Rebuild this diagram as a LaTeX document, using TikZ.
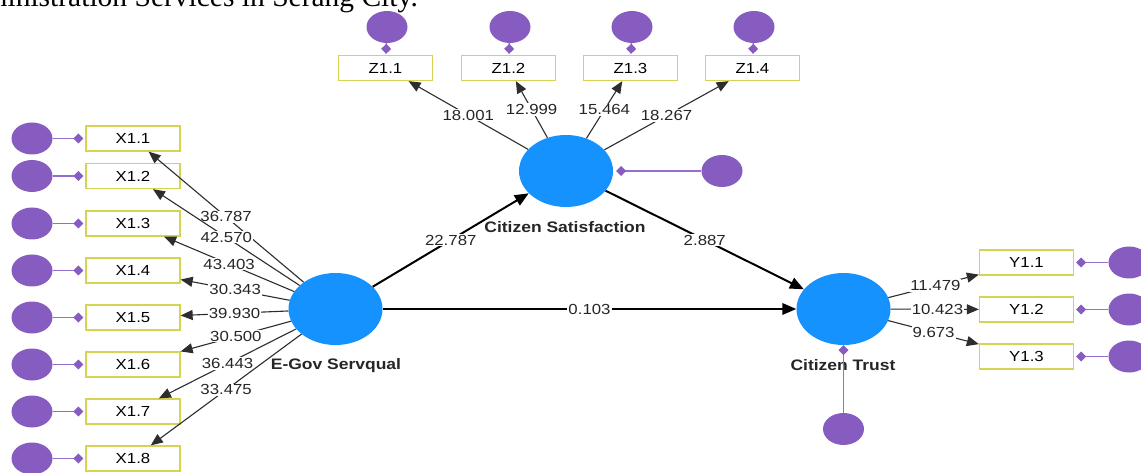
\documentclass[tikz,border=0pt]{standalone}
\usepackage{fontspec}
\usetikzlibrary{shapes.geometric,arrows.meta}
\newfontfamily\labfont[FakeStretch=1.15]{Liberation Sans}
\newfontfamily\topfont{Liberation Serif}
\definecolor{lvblue}{RGB}{22,146,255}
\definecolor{errpurple}{RGB}{135,92,192}
\definecolor{errline}{RGB}{150,110,205}
\definecolor{boxyellow}{RGB}{212,212,80}
\definecolor{loadgray}{RGB}{45,45,45}
\tikzset{
  latent/.style={ellipse, fill=lvblue, draw=none, minimum width=94pt, minimum height=72pt, inner sep=0pt},
  errterm/.style={ellipse, fill=errpurple, draw=none, minimum width=41pt, minimum height=32pt, inner sep=0pt},
  indbox/.style={rectangle, draw=boxyellow, line width=1.3pt, fill=white, minimum width=94pt, minimum height=25pt, inner sep=0pt, font=\labfont\fontsize{14.6}{14.6}\selectfont},
  lvname/.style={font=\labfont\bfseries\fontsize{15.2}{15.2}\selectfont, text=black!85, inner sep=0pt},
  loading/.style={draw=loadgray, line width=1.1pt, -{Triangle[length=12pt,width=10pt]}},
  path/.style={draw=black, line width=2pt, -{Triangle[length=14pt,width=11.5pt]}},
  val/.style={font=\labfont\fontsize{14.6}{14.6}\selectfont, fill=white, inner sep=1pt, text=black!85, pos=0.5},
  errlink/.style={draw=errline, line width=1.5pt, -{Diamond[length=10pt,width=10pt,color=errpurple]}},
}
\begin{document}
\begin{tikzpicture}[x=1pt,y=-1pt]
\path[use as bounding box] (0,0) rectangle (1141,473);
\clip (0,0) rectangle (1141,473);
\fill[white] (0,0) rectangle (1141,473);

\node[anchor=base east, font=\topfont\fontsize{29.5}{29.5}\selectfont, inner sep=0pt] (title) at (418,7) {Administration Services in Serang City.};

% latent variables
\node[latent] (eg) at (335.5,309) {};
\node[latent] (cs) at (566,171) {};
\node[latent] (ct) at (843.5,309) {};
\node[lvname] (egname) at (336,366) {E-Gov Servqual};
\node[lvname] (csname) at (565,227) {Citizen Satisfaction};
\node[lvname] (ctname) at (843,365) {Citizen Trust};

% X indicators
\foreach \i/\y in {1/138.5,2/176,3/223.5,4/270.5,5/317.5,6/364.5,7/411.5,8/458.5}{
  \node[indbox] (x\i) at (133,\y) {X1.\i};
  \node[errterm] (ex\i) at (32,\y) {};
  \draw[errlink, shorten >=2pt] (ex\i) -- (x\i);
}
% Z indicators
\foreach \i/\x in {1/385.5,2/508.5,3/630.5,4/752.5}{
  \node[indbox] (z\i) at (\x,68) {Z1.\i};
  \node[errterm] (ez\i) at (\x+1.5,27) {};
  \draw[errlink, shorten >=1pt] (ez\i) -- (z\i);
}
% Y indicators
\foreach \i/\y in {1/262.5,2/309.5,3/356.5}{
  \node[indbox] (y\i) at (1026.5,\y) {Y1.\i};
  \node[errterm] (ey\i) at (1129,\y) {};
  \draw[errlink, shorten >=2pt] (ey\i) -- (y\i);
}
% error terms of endogenous constructs
\node[errterm] (ecs) at (722,171) {};
\draw[errlink, shorten >=3pt] (ecs) -- (cs);
\node[errterm] (ect) at (843.5,429) {};
\draw[errlink] (ect) -- (ct);

% outer loadings
\draw[loading] (eg) -- node[val]{36.787} (x1);
\draw[loading] (eg) -- node[val]{42.570} (x2);
\draw[loading] (eg) -- node[val]{43.403} (x3);
\draw[loading] (eg) -- node[val]{30.343} (x4);
\draw[loading] (eg) -- node[val]{39.930} (x5);
\draw[loading] (eg) -- node[val]{30.500} (x6);
\draw[loading] (eg) -- node[val]{36.443} (x7);
\draw[loading] (eg) -- node[val]{33.475} (x8);

\draw[loading] (cs) -- node[val]{18.001} (z1);
\draw[loading] (cs) -- node[val]{12.999} (z2);
\draw[loading] (cs) -- node[val]{15.464} (z3);
\draw[loading] (cs) -- node[val]{18.267} (z4);

\draw[loading] (ct) -- node[val, pos=0.52]{11.479} (y1);
\draw[loading] (ct) -- node[val, pos=0.53]{10.423} (y2);
\draw[loading] (ct) -- node[val]{9.673} (y3);

% structural paths
\draw[path] (eg) -- node[val]{22.787} (cs);
\draw[path] (cs) -- node[val]{2.887} (ct);
\draw[path] (eg) -- node[val]{0.103} (ct);
\end{tikzpicture}
\end{document}
